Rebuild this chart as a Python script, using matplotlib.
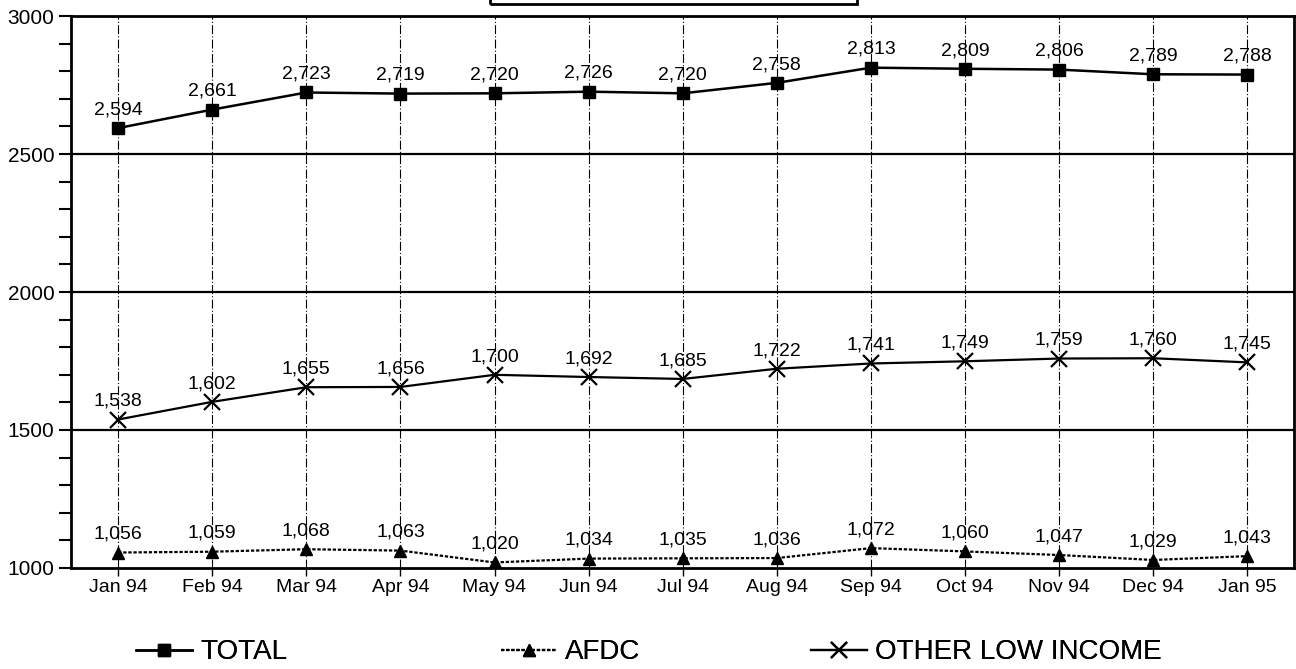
import matplotlib.pyplot as plt
from matplotlib.patches import Rectangle
from matplotlib.ticker import MultipleLocator

plt.rcParams['font.family'] = ['Liberation Sans', 'DejaVu Sans']

# months on the x axis
months = ['Jan 94', 'Feb 94', 'Mar 94', 'Apr 94', 'May 94', 'Jun 94', 'Jul 94',
          'Aug 94', 'Sep 94', 'Oct 94', 'Nov 94', 'Dec 94', 'Jan 95']

total = [2594, 2661, 2723, 2719, 2720, 2726, 2720, 2758, 2813, 2809, 2806, 2789, 2788]
afdc = [1056, 1059, 1068, 1063, 1020, 1034, 1035, 1036, 1072, 1060, 1047, 1029, 1043]
other = [1538, 1602, 1655, 1656, 1700, 1692, 1685, 1722, 1741, 1749, 1759, 1760, 1745]

fig = plt.figure(figsize=(12.96, 6.69), dpi=100)
ax = fig.add_axes([0.0548, 0.151, 0.944, 0.825])

x = list(range(len(months)))

l1, = ax.plot(x, total, 'k-', marker='s', markersize=9, lw=1.8, label='TOTAL', zorder=3)
l2, = ax.plot(x, afdc, 'k', ls=(0, (1.5, 0.8)), marker='^', markersize=8, lw=1.6, label='AFDC', zorder=3)
l3, = ax.plot(x, other, 'k-', marker='x', markersize=11, mew=1.6, lw=1.6, label='OTHER LOW INCOME', zorder=3)

# data labels over each point
for serie in (total, afdc, other):
    for i, v in enumerate(serie):
        ax.annotate(f'{v:,}', (i, v), xytext=(0, 7), textcoords='offset points',
                    ha='center', va='bottom', fontsize=14)

ax.set_xlim(-0.5, 12.5)
ax.set_ylim(1000, 3000)
ax.set_xticks(x)
ax.set_xticklabels(months, fontsize=14)
ax.set_yticks([1000, 1500, 2000, 2500, 3000])
ax.set_yticklabels(['1000', '1500', '2000', '2500', '3000'], fontsize=15)
ax.yaxis.set_minor_locator(MultipleLocator(100))
ax.tick_params(axis='y', which='both', direction='out', length=9, width=1.5, pad=3)
ax.tick_params(axis='x', direction='out', length=6, width=1, pad=2)

# rutenett
for yy in (1500, 2000, 2500):
    ax.axhline(yy, color='black', lw=1.6, zorder=1)
for xx in x:
    ax.axvline(xx, color='black', lw=0.8, ls=(0, (8, 2, 1, 2)), zorder=1)

for s in ax.spines.values():
    s.set_linewidth(2)

# cut off title box at the top
fig.patches.append(Rectangle((490 / 1296, 665 / 669), 367 / 1296, 0.02,
                             transform=fig.transFigure, fill=False, lw=2, ec='black'))

# one legend entry per position, like the original
for line, xpos in ((l1, 136), (l2, 501), (l3, 811)):
    leg = fig.legend(handles=[line], loc='center left', bbox_to_anchor=(xpos / 1296, 0.025),
                     frameon=False, fontsize=20, handlelength=2.0, handletextpad=0.3,
                     borderpad=0, borderaxespad=0)
    fig.add_artist(leg)

fig.savefig('out.png', dpi=100)
